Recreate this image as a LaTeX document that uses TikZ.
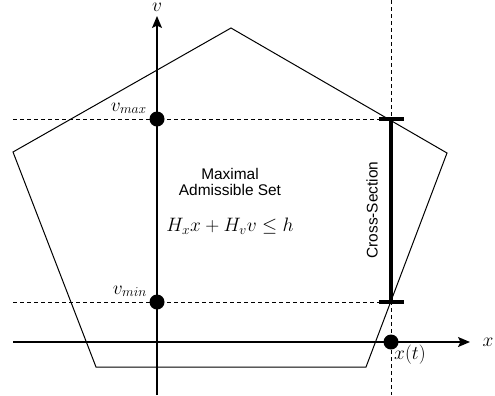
\RequirePackage{fix-cm}
\documentclass[tikz,border=0pt]{standalone}
\usepackage{fontspec}
\setsansfont{Liberation Sans}
\usetikzlibrary{arrows.meta}
\begin{document}
\begin{tikzpicture}[x=1bp,y=-1bp,
  poly/.style={draw=black,line width=1bp,line join=miter},
  axis/.style={draw=black,line width=1.4bp,-{Stealth[length=12bp,width=10bp,inset=2.5bp]}},
  dashline/.style={draw=black,line width=1bp,dash pattern=on 4bp off 3bp},
  dot/.style={circle,fill=black,minimum size=15bp,inner sep=0pt},
  mlabel/.style={inner sep=0pt,font=\fontsize{19.5}{22}\selectfont},
  slabel/.style={inner sep=0pt,font=\sffamily\fontsize{15.5}{16.5}\selectfont},
  xsec/.style={draw=black,line width=4bp},
]
\useasboundingbox (0,0) rectangle (495,395);
% pentagon
\coordinate (p1) at (231,28);
\coordinate (p2) at (447,153);
\coordinate (p3) at (366,367);
\coordinate (p4) at (96,367);
\coordinate (p5) at (13,152);
\draw[poly] (p1) -- (p2) -- (p3) -- (p4) -- (p5) -- cycle;
% dots
\node[dot] (vmax) at (157,119) {};
\node[dot] (vmin) at (157,302) {};
\node[dot] (xt) at (391,342) {};
% dashed guides
\coordinate (dl1) at (13,119);
\coordinate (dr1) at (391,119);
\coordinate (dl2) at (13,302);
\coordinate (dr2) at (391,302);
\coordinate (vt) at (391,0);
\coordinate (vb) at (391,395);
\draw[dashline] (dl1) -- (dr1);
\draw[dashline] (dl2) -- (dr2);
\draw[dashline] (vt) -- (vb);
% axes
\coordinate (xs) at (13,342);
\coordinate (xe) at (470,342);
\coordinate (vs) at (157,395);
\coordinate (ve) at (157,16);
\draw[axis] (xs) -- (xe);
\draw[axis] (vs) -- (ve);
% cross-section
\coordinate (c1l) at (379,119);
\coordinate (c1r) at (404,119);
\coordinate (c2l) at (379,302);
\coordinate (c2r) at (404,302);
\draw[xsec] (dr1) -- (dr2);
\draw[xsec] (c1l) -- (c1r);
\draw[xsec] (c2l) -- (c2r);
% labels
\node[mlabel,anchor=north] (vlab) at (157,2.5) {$v$};
\node[mlabel] (xlab) at (488,342) {$x$};
\node[mlabel,anchor=north west] (xtlab) at (394,345) {$x(t)$};
\node[mlabel,anchor=base east] (vmaxlab) at (147,111) {$v_{max}$};
\node[mlabel,anchor=base east] (vminlab) at (147,294) {$v_{min}$};
\node[slabel,align=center] (mas) at (230,182) {Maximal\\Admissible Set};
\node[mlabel] (eq) at (230,226) {$H_x x + H_v v \leq h$};
\node[slabel,rotate=90] (cs) at (372,210) {Cross-Section};
\end{tikzpicture}
\end{document}
